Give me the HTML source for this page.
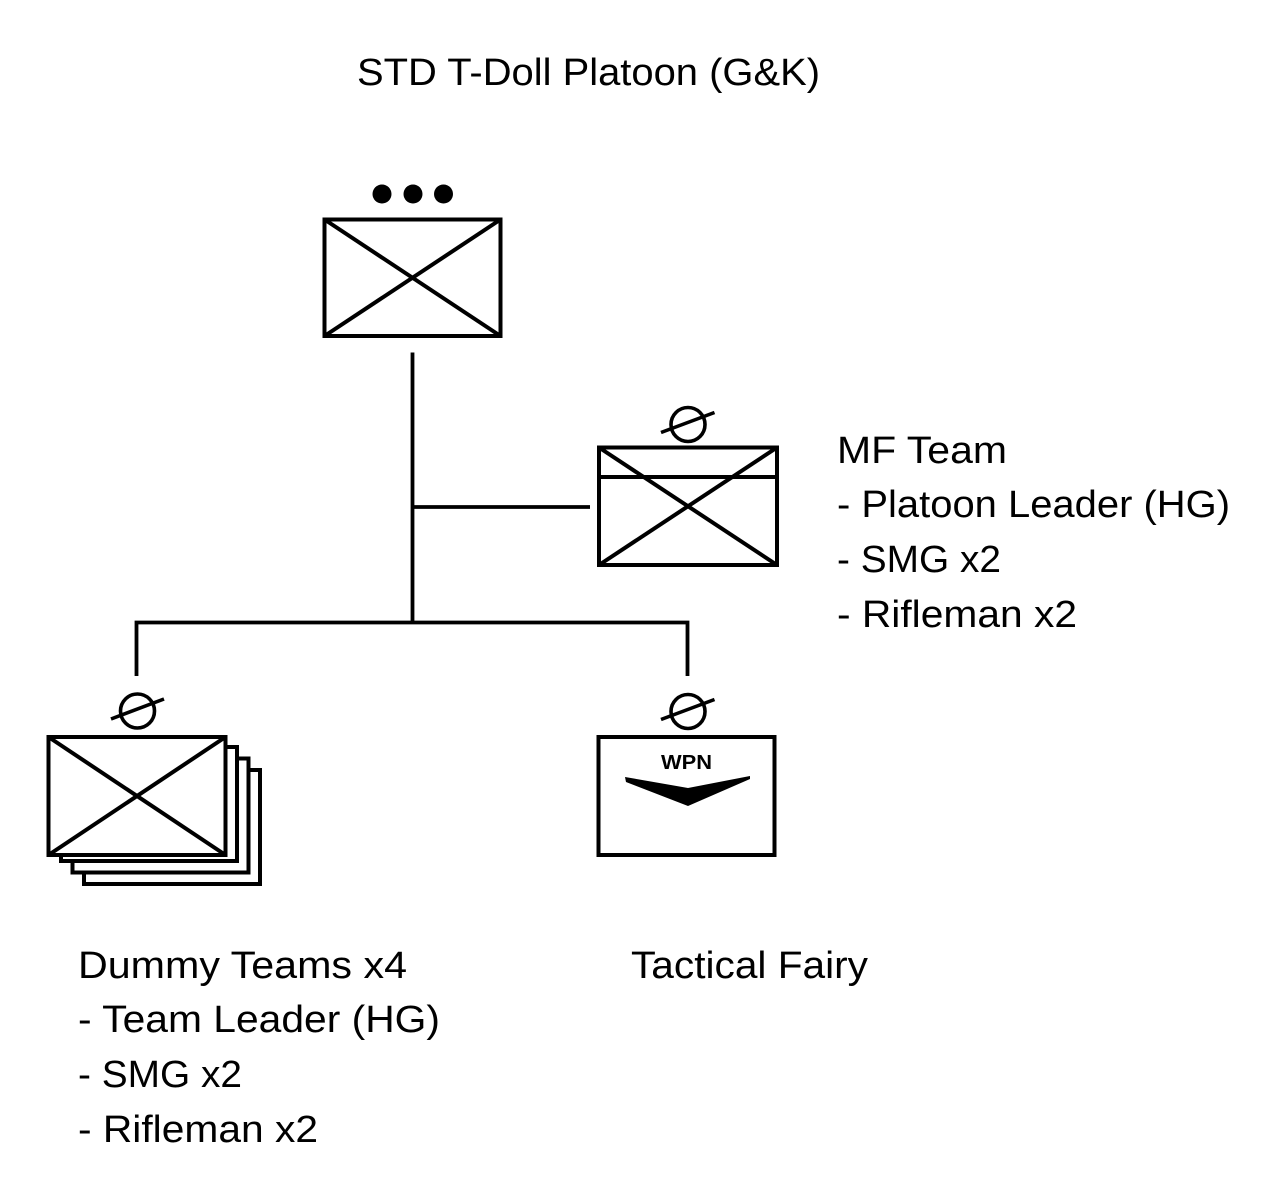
<!DOCTYPE html>
<html>
<head>
<meta charset="utf-8">
<style>
html,body{margin:0;padding:0;background:#fff;}
svg{display:block;}
text{font-family:"Liberation Sans",Arial,sans-serif;fill:#000;}
</style>
</head>
<body>
<svg width="1280" height="1200" viewBox="0 0 1280 1200" xmlns="http://www.w3.org/2000/svg">
<rect width="1280" height="1200" fill="#fff"/>

<!-- Title -->
<text x="357" y="85" font-size="38" textLength="463" lengthAdjust="spacingAndGlyphs">STD T-Doll Platoon (G&amp;K)</text>

<!-- HQ dots -->
<circle cx="382" cy="194" r="9.5" fill="#000"/>
<circle cx="413" cy="194" r="9.5" fill="#000"/>
<circle cx="443.5" cy="194" r="9.5" fill="#000"/>

<!-- HQ box -->
<g stroke="#000" stroke-width="4" fill="none">
<rect x="324.5" y="219.5" width="176" height="116.5" fill="#fff"/>
<line x1="324.5" y1="219.5" x2="500.5" y2="336"/>
<line x1="500.5" y1="219.5" x2="324.5" y2="336"/>
</g>

<!-- Connectors -->
<g stroke="#000" stroke-width="3.8" fill="none">
<line x1="412.5" y1="352.5" x2="412.5" y2="624"/>
<line x1="412.5" y1="507" x2="590" y2="507"/>
<polyline points="136.5,676 136.5,622.5 687.5,622.5 687.5,676"/>
</g>

<!-- MF Team box -->
<g stroke="#000" stroke-width="4" fill="none">
<rect x="599" y="447.5" width="178" height="117.5" fill="#fff"/>
<line x1="599" y1="477" x2="777" y2="477"/>
<line x1="599" y1="447.5" x2="777" y2="565"/>
<line x1="777" y1="447.5" x2="599" y2="565"/>
<circle cx="688" cy="424.5" r="17" stroke-width="3.6"/>
<line x1="661" y1="432.5" x2="714.5" y2="412.5" stroke-width="3.6"/>
</g>

<!-- MF Team text -->
<text x="837" y="463" font-size="38" textLength="170" lengthAdjust="spacingAndGlyphs">MF Team</text>
<text x="837" y="517" font-size="38" textLength="393" lengthAdjust="spacingAndGlyphs">- Platoon Leader (HG)</text>
<text x="837" y="572" font-size="38" textLength="164" lengthAdjust="spacingAndGlyphs">- SMG x2</text>
<text x="837" y="627" font-size="38" textLength="240" lengthAdjust="spacingAndGlyphs">- Rifleman x2</text>

<!-- Dummy stacked boxes -->
<g stroke="#000" stroke-width="4" fill="#fff">
<rect x="84" y="770" width="176" height="114"/>
<rect x="72.5" y="758.5" width="176" height="114"/>
<rect x="61" y="747" width="176" height="114"/>
<rect x="48.5" y="737" width="177" height="118"/>
</g>
<g stroke="#000" stroke-width="4" fill="none">
<line x1="48.5" y1="737" x2="225.5" y2="855"/>
<line x1="225.5" y1="737" x2="48.5" y2="855"/>
<circle cx="137.5" cy="711" r="17" stroke-width="3.6"/>
<line x1="111" y1="719" x2="164" y2="699" stroke-width="3.6"/>
</g>

<!-- Tactical Fairy box -->
<g stroke="#000" stroke-width="4" fill="none">
<rect x="598.5" y="737" width="176" height="118" fill="#fff"/>
<circle cx="688" cy="711.5" r="17" stroke-width="3.6"/>
<line x1="661" y1="719.5" x2="714.5" y2="699.5" stroke-width="3.6"/>
</g>
<text x="686.5" y="769" font-size="20" font-weight="bold" text-anchor="middle" textLength="51" lengthAdjust="spacingAndGlyphs">WPN</text>
<polygon points="625,777 688,788 750,776 750,779 688,806 626,782" fill="#000"/>

<!-- Dummy text -->
<text x="78" y="978" font-size="38" textLength="329" lengthAdjust="spacingAndGlyphs">Dummy Teams x4</text>
<text x="78" y="1032" font-size="38" textLength="362" lengthAdjust="spacingAndGlyphs">- Team Leader (HG)</text>
<text x="78" y="1087" font-size="38" textLength="164" lengthAdjust="spacingAndGlyphs">- SMG x2</text>
<text x="78" y="1142" font-size="38" textLength="240" lengthAdjust="spacingAndGlyphs">- Rifleman x2</text>

<!-- Tactical Fairy text -->
<text x="631" y="978" font-size="38" textLength="237" lengthAdjust="spacingAndGlyphs">Tactical Fairy</text>
</svg>
</body>
</html>
